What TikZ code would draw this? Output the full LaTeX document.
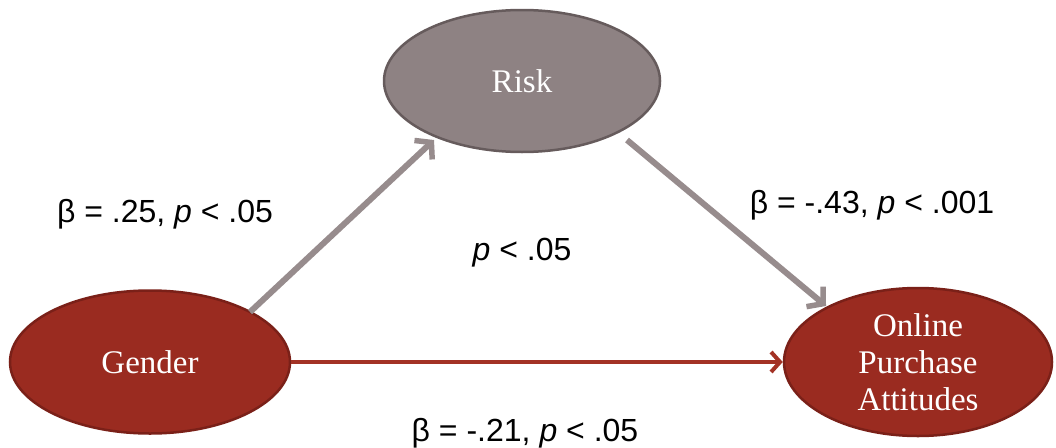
\documentclass[tikz,border=0pt]{standalone}
\usepackage{fontspec}
\setmainfont{Liberation Serif}
\newfontfamily\labfont{Liberation Sans}
\usetikzlibrary{shapes.geometric,arrows.meta}
\definecolor{riskfill}{HTML}{8E8283}
\definecolor{riskdraw}{HTML}{665B5C}
\definecolor{redfill}{HTML}{9A2B20}
\definecolor{reddraw}{HTML}{7A2018}
\definecolor{grayarrow}{HTML}{978C8D}
\definecolor{redarrow}{HTML}{A33225}
\begin{document}
\begin{tikzpicture}[x=1pt,y=-1pt,
  oval/.style={ellipse,line width=2.5pt,inner sep=0pt,align=center,text=white,font=\fontsize{33}{37}\selectfont},
  lab/.style={font=\labfont\fontsize{32}{36}\selectfont,inner sep=0pt},
  garrow/.style={draw=grayarrow,line width=6pt,-{Straight Barb[length=11pt,width=26pt,line width=5.5pt]}},
  rarrow/.style={draw=redarrow,line width=4pt,-{Straight Barb[length=9pt,width=20pt,line width=4pt]}}]
\useasboundingbox (0,0) rectangle (1056,447);
\node[oval,fill=riskfill,draw=riskdraw,minimum width=276pt,minimum height=142pt] (risk) at (522,81) {Risk};
\node[oval,fill=redfill,draw=reddraw,minimum width=280pt,minimum height=143pt] (gender) at (150,362) {Gender};
\node[oval,fill=redfill,draw=reddraw,minimum width=268pt,minimum height=148pt] (opa) at (918,362) {Online\\Purchase\\Attitudes};
\coordinate (g1) at (250,312);
\coordinate (r1) at (434,140);
\coordinate (r2) at (627,140);
\coordinate (o1) at (826,306);
\draw[garrow] (g1) -- (r1);
\draw[garrow] (r2) -- (o1);
\draw[rarrow] (gender.east) -- (opa.west);
\node[lab] (l1) at (165,214) {β = .25, \textit{p} < .05};
\node[lab] (l2) at (522,253) {\textit{p} < .05};
\node[lab] (l3) at (872,205) {β = -.43, \textit{p} < .001};
\node[lab] (l4) at (525,433) {β = -.21, \textit{p} < .05};
\end{tikzpicture}
\end{document}
